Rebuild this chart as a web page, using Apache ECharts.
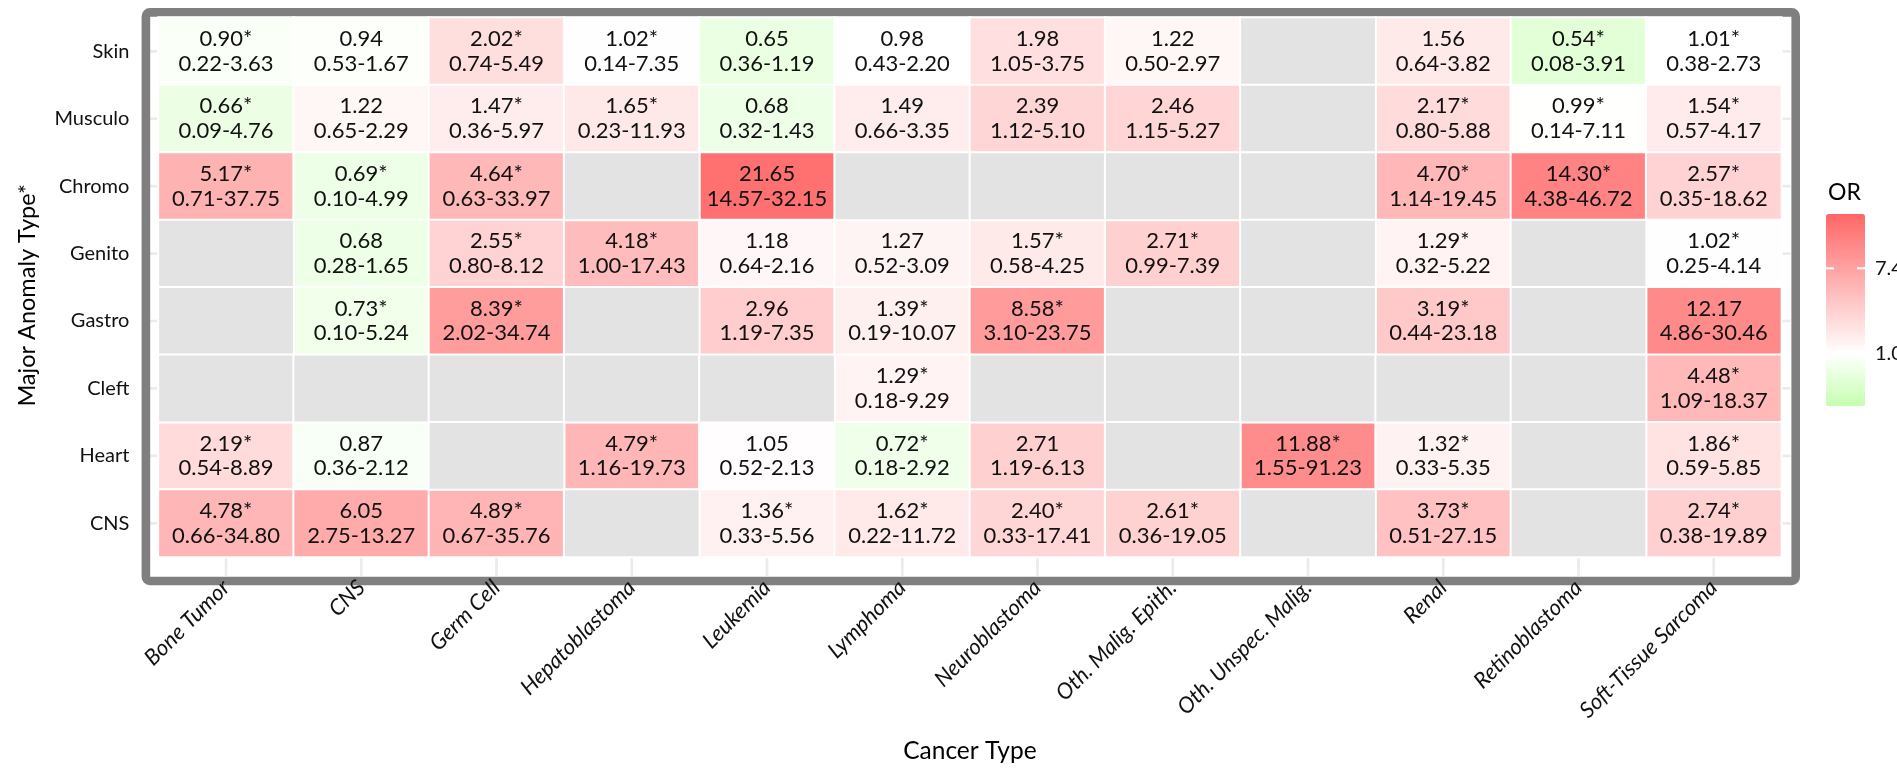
<!DOCTYPE html>
<html>
<head>
<meta charset="utf-8">
<title>OR heatmap</title>
<script src="https://cdn.jsdelivr.net/npm/echarts@6/dist/echarts.min.js"></script>
<style>
  html, body { margin: 0; padding: 0; background: #fff; }
  #chart { width: 1897px; height: 769px; }
</style>
</head>
<body>
<div id="chart"></div>
<script>
// categories
const cancerTypes = ['Bone Tumor', 'CNS', 'Germ Cell', 'Hepatoblastoma', 'Leukemia', 'Lymphoma',
  'Neuroblastoma', 'Oth. Malig. Epith.', 'Oth. Unspec. Malig.', 'Renal', 'Retinoblastoma', 'Soft-Tissue Sarcoma'];
const anomalyTypes = ['Skin', 'Musculo', 'Chromo', 'Genito', 'Gastro', 'Cleft', 'Heart', 'CNS']; // top -> bottom

// odds ratios, CI bounds and the * flag, one row per anomaly type (null = not estimated)
const orSkin   = [0.90, 0.94, 2.02, 1.02, 0.65, 0.98, 1.98, 1.22, null, 1.56, 0.54, 1.01];
const loSkin   = [0.22, 0.53, 0.74, 0.14, 0.36, 0.43, 1.05, 0.50, null, 0.64, 0.08, 0.38];
const hiSkin   = [3.63, 1.67, 5.49, 7.35, 1.19, 2.20, 3.75, 2.97, null, 3.82, 3.91, 2.73];
const starSkin = [1, 0, 1, 1, 0, 0, 0, 0, 0, 0, 1, 1];

const orMusculo   = [0.66, 1.22, 1.47, 1.65, 0.68, 1.49, 2.39, 2.46, null, 2.17, 0.99, 1.54];
const loMusculo   = [0.09, 0.65, 0.36, 0.23, 0.32, 0.66, 1.12, 1.15, null, 0.80, 0.14, 0.57];
const hiMusculo   = [4.76, 2.29, 5.97, 11.93, 1.43, 3.35, 5.10, 5.27, null, 5.88, 7.11, 4.17];
const starMusculo = [1, 0, 1, 1, 0, 0, 0, 0, 0, 1, 1, 1];

const orChromo   = [5.17, 0.69, 4.64, null, 21.65, null, null, null, null, 4.70, 14.30, 2.57];
const loChromo   = [0.71, 0.10, 0.63, null, 14.57, null, null, null, null, 1.14, 4.38, 0.35];
const hiChromo   = [37.75, 4.99, 33.97, null, 32.15, null, null, null, null, 19.45, 46.72, 18.62];
const starChromo = [1, 1, 1, 0, 0, 0, 0, 0, 0, 1, 1, 1];

const orGenito   = [null, 0.68, 2.55, 4.18, 1.18, 1.27, 1.57, 2.71, null, 1.29, null, 1.02];
const loGenito   = [null, 0.28, 0.80, 1.00, 0.64, 0.52, 0.58, 0.99, null, 0.32, null, 0.25];
const hiGenito   = [null, 1.65, 8.12, 17.43, 2.16, 3.09, 4.25, 7.39, null, 5.22, null, 4.14];
const starGenito = [0, 0, 1, 1, 0, 0, 1, 1, 0, 1, 0, 1];

const orGastro   = [null, 0.73, 8.39, null, 2.96, 1.39, 8.58, null, null, 3.19, null, 12.17];
const loGastro   = [null, 0.10, 2.02, null, 1.19, 0.19, 3.10, null, null, 0.44, null, 4.86];
const hiGastro   = [null, 5.24, 34.74, null, 7.35, 10.07, 23.75, null, null, 23.18, null, 30.46];
const starGastro = [0, 1, 1, 0, 0, 1, 1, 0, 0, 1, 0, 0];

const orCleft   = [null, null, null, null, null, 1.29, null, null, null, null, null, 4.48];
const loCleft   = [null, null, null, null, null, 0.18, null, null, null, null, null, 1.09];
const hiCleft   = [null, null, null, null, null, 9.29, null, null, null, null, null, 18.37];
const starCleft = [0, 0, 0, 0, 0, 1, 0, 0, 0, 0, 0, 1];

const orHeart   = [2.19, 0.87, null, 4.79, 1.05, 0.72, 2.71, null, 11.88, 1.32, null, 1.86];
const loHeart   = [0.54, 0.36, null, 1.16, 0.52, 0.18, 1.19, null, 1.55, 0.33, null, 0.59];
const hiHeart   = [8.89, 2.12, null, 19.73, 2.13, 2.92, 6.13, null, 91.23, 5.35, null, 5.85];
const starHeart = [1, 0, 0, 1, 0, 1, 0, 0, 1, 1, 0, 1];

const orCNS   = [4.78, 6.05, 4.89, null, 1.36, 1.62, 2.40, 2.61, null, 3.73, null, 2.74];
const loCNS   = [0.66, 2.75, 0.67, null, 0.33, 0.22, 0.33, 0.36, null, 0.51, null, 0.38];
const hiCNS   = [34.80, 13.27, 35.76, null, 5.56, 11.72, 17.41, 19.05, null, 27.15, null, 19.89];
const starCNS = [1, 0, 1, 0, 1, 1, 1, 1, 0, 1, 0, 1];

// colour scale (log OR), limits and legend breaks
const scaleLimits = [0.29, 26.5];
const legendBreaks = [0, 2]; // ln(OR)

const rows = [
  [orSkin, loSkin, hiSkin, starSkin],
  [orMusculo, loMusculo, hiMusculo, starMusculo],
  [orChromo, loChromo, hiChromo, starChromo],
  [orGenito, loGenito, hiGenito, starGenito],
  [orGastro, loGastro, hiGastro, starGastro],
  [orCleft, loCleft, hiCleft, starCleft],
  [orHeart, loHeart, hiHeart, starHeart],
  [orCNS, loCNS, hiCNS, starCNS]
];

const cells = [];
const naCells = [];
rows.forEach((r, y) => {
  r[0].forEach((v, x) => {
    if (v == null) {
      naCells.push([x, y, 0]);
    } else {
      cells.push([x, y, Math.log(v), v, r[1][x], r[2][x], r[3][x]]);
    }
  });
});

const FONT = 'Lato';
const lnMin = Math.log(scaleLimits[0]);
const lnMax = Math.log(scaleLimits[1]);

// gradient: light green -> white at OR=1 -> red
const lowCol = [198, 255, 176], midCol = [255, 255, 255], highCol = [255, 102, 102];
function mix(a, b, t) {
  return 'rgb(' + a.map((c, i) => Math.round(c + (b[i] - c) * t)).join(',') + ')';
}
const stops = [];
for (let i = 0; i <= 80; i++) {
  const v = lnMin + (lnMax - lnMin) * i / 80;
  stops.push(v < 0 ? mix(midCol, lowCol, v / lnMin) : mix(midCol, highCol, v / lnMax));
}

const gridBox = { left: 158.4, top: 17.6, width: 1623, height: 555.4 };
const barBox = { left: 1826, top: 214, width: 39, height: 192 };

const chart = echarts.init(document.getElementById('chart'));
const option = {
  backgroundColor: '#fff',
  animation: false,
  textStyle: { fontFamily: FONT },
  grid: gridBox,
  xAxis: {
    type: 'category',
    data: cancerTypes,
    offset: 7,
    z: 5,
    name: 'Cancer Type',
    nameLocation: 'middle',
    nameGap: 175,
    nameTextStyle: { fontFamily: FONT, fontSize: 24.5, color: '#000' },
    axisLine: { show: false },
    axisTick: { alignWithLabel: true, length: 8, lineStyle: { color: '#000', width: 5 } },
    axisLabel: { rotate: 45, margin: 20, fontSize: 22, fontStyle: 'italic', color: '#111', fontFamily: FONT },
    splitLine: { show: false }
  },
  yAxis: {
    type: 'category',
    data: anomalyTypes,
    inverse: true,
    offset: 13,
    z: 5,
    axisLine: { show: false },
    axisTick: { alignWithLabel: true, length: 8, lineStyle: { color: '#000', width: 5 } },
    axisLabel: { margin: 16, fontSize: 20, color: '#111', fontFamily: FONT },
    splitLine: { show: false }
  },
  visualMap: {
    type: 'continuous',
    seriesIndex: 0,
    dimension: 2,
    min: lnMin,
    max: lnMax,
    calculable: false,
    hoverLink: false,
    text: ['', ''],
    padding: 0,
    left: barBox.left,
    top: barBox.top,
    itemWidth: barBox.width,
    itemHeight: barBox.height,
    inRange: { color: stops }
  },
  series: [
    {
      type: 'heatmap',
      data: cells,
      itemStyle: { borderColor: '#fff', borderWidth: 2 },
      label: {
        show: true,
        fontFamily: FONT,
        fontSize: 22,
        lineHeight: 24.7,
        color: '#111',
        formatter: p => {
          const d = p.data;
          return d[3].toFixed(2) + (d[6] ? '*' : '') + '\n' + d[4].toFixed(2) + '-' + d[5].toFixed(2);
        }
      },
      emphasis: { disabled: true }
    },
    {
      type: 'heatmap',
      data: naCells,
      itemStyle: { color: '#e3e3e3', borderColor: '#fff', borderWidth: 2 },
      emphasis: { disabled: true }
    }
  ]
};
chart.setOption(option);

// panel frame, grid stubs, y title and colourbar annotations
const g = [];
const panel = { x1: 150, x2: 1790.5, y1: 16, y2: 575.7 };
cancerTypes.forEach(c => {
  const px = chart.convertToPixel({ xAxisIndex: 0 }, c);
  g.push({ type: 'line', z: 0, shape: { x1: px, y1: panel.y1, x2: px, y2: panel.y2 },
    style: { stroke: '#ebebeb', lineWidth: 2.7 } });
});
anomalyTypes.forEach(a => {
  const py = chart.convertToPixel({ yAxisIndex: 0 }, a);
  g.push({ type: 'line', z: 0, shape: { x1: panel.x1, y1: py, x2: panel.x2, y2: py },
    style: { stroke: '#ebebeb', lineWidth: 2.7 } });
});
g.push({ type: 'rect', z: 1, shape: { x: 145.9, y: 12.4, width: 1649.8, height: 568.6, r: 4 },
  style: { fill: null, stroke: '#7f7f7f', lineWidth: 8.6 } });

g.push({ type: 'text', z: 3, x: 27, y: gridBox.top + gridBox.height / 2, rotation: Math.PI / 2,
  style: { text: 'Major Anomaly Type*', fontFamily: FONT, fontSize: 23.5, fill: '#000',
    align: 'center', verticalAlign: 'middle' } });

g.push({ type: 'text', z: 3, left: 1828, top: 181,
  style: { text: 'OR', fontFamily: FONT, fontSize: 23, fill: '#000' } });
legendBreaks.forEach(b => {
  const y = barBox.top + (lnMax - b) / (lnMax - lnMin) * barBox.height;
  g.push({ type: 'line', z: 10, shape: { x1: barBox.left, y1: y, x2: barBox.left + 8, y2: y },
    style: { stroke: '#fff', lineWidth: 2 } });
  g.push({ type: 'line', z: 10, shape: { x1: barBox.left + barBox.width - 8, y1: y, x2: barBox.left + barBox.width, y2: y },
    style: { stroke: '#fff', lineWidth: 2 } });
  g.push({ type: 'text', z: 10, x: barBox.left + barBox.width + 10, y: y,
    style: { text: Math.exp(b).toFixed(1), fontFamily: FONT, fontSize: 20, fill: '#111', verticalAlign: 'middle' } });
});
chart.setOption({ graphic: g });

window.addEventListener('resize', () => chart.resize());
</script>
</body>
</html>
